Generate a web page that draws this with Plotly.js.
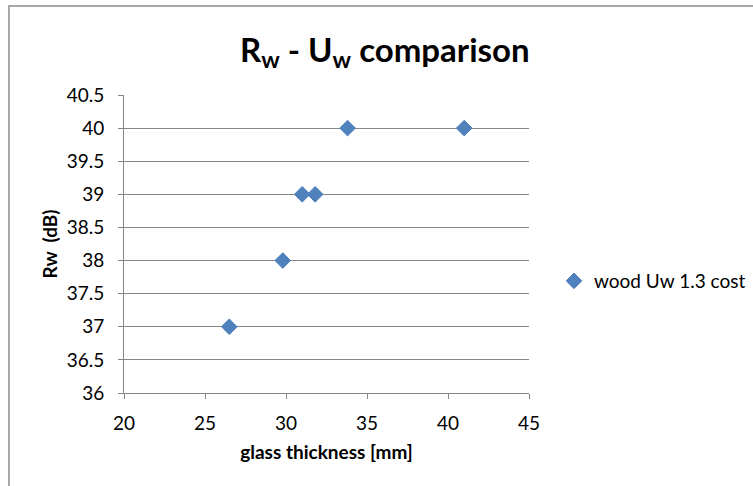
<!DOCTYPE html>
<html>
<head>
<meta charset="utf-8">
<script src="https://cdn.plot.ly/plotly-3.0.1.min.js"></script>
<style>html,body{margin:0;padding:0;background:#fff;}</style>
</head>
<body>
<div id="chart" style="width:753px;height:486px;"></div>
<script>
const seriesName = "wood Uw 1.3 cost";
const glassThickness = [26.5, 29.8, 31.0, 31.8, 33.8, 41.0];
const rwValues = [37, 38, 39, 39, 40, 40];
const xTickVals = [20, 25, 30, 35, 40, 45];
const yTickVals = [36, 36.5, 37, 37.5, 38, 38.5, 39, 39.5, 40, 40.5];

const FONT = "Lato, 'Liberation Sans', sans-serif";
const W = 753, H = 486;
const L = 124, R = 224, T = 95, B = 93;
const pw = W - L - R, ph = H - T - B;
function px(x){ return (x - L) / pw; }
function py(y){ return (H - B - y) / ph; }

const trace = {
  type: 'scatter', mode: 'markers', name: seriesName,
  x: glassThickness, y: rwValues,
  marker: {symbol: 'diamond', size: 12, color: '#4F81BD', line: {color: '#4A7EBB', width: 1}}
};

const layout = {
  width: W, height: H,
  margin: {l: L, r: R, t: T, b: B, pad: 0, autoexpand: false},
  paper_bgcolor: '#fff', plot_bgcolor: '#fff',
  font: {family: FONT, size: 19, color: '#000'},
  title: {text: '<b>R<sub>w</sub> - U<sub>w</sub> comparison</b>', font: {family: FONT, size: 33, color: '#000'},
          xref: 'container', x: 0.511, xanchor: 'center', yref: 'container', y: 1 - 50/H, yanchor: 'middle'},
  xaxis: {range: [20, 45], tickvals: xTickVals, ticktext: xTickVals.map(String),
          showgrid: false, zeroline: false, showline: true, linecolor: '#868686', linewidth: 1,
          ticks: 'outside', ticklen: 5, tickcolor: '#868686', ticklabelstandoff: 8,
          tickfont: {family: FONT, size: 19}, automargin: false,
          title: {text: '<b>glass thickness [mm]</b>', font: {family: FONT, size: 19}, standoff: 12}},
  yaxis: {range: [36, 40.5], tickvals: yTickVals, ticktext: yTickVals.map(String),
          showgrid: true, gridcolor: '#868686', gridwidth: 1, zeroline: false,
          showline: true, linecolor: '#868686', linewidth: 1,
          ticks: 'outside', ticklen: 5, tickcolor: '#868686', ticklabelstandoff: 10,
          tickfont: {family: FONT, size: 19}, automargin: false,
          title: {text: '<b>Rw  (dB)</b>', font: {family: FONT, size: 19}, standoff: 4}},
  showlegend: true,
  legend: {x: px(554), xanchor: 'left', y: py(281), yanchor: 'middle', bgcolor: 'rgba(0,0,0,0)',
           font: {family: FONT, size: 19}},
  shapes: [{type: 'rect', xref: 'paper', yref: 'paper', x0: px(9), x1: px(790), y0: py(6), y1: py(520),
            line: {color: '#8c8c8c', width: 1.5}, fillcolor: 'rgba(0,0,0,0)', layer: 'below'}]
};

Plotly.newPlot('chart', [trace], layout, {displayModeBar: false, staticPlot: true});
</script>
</body>
</html>
